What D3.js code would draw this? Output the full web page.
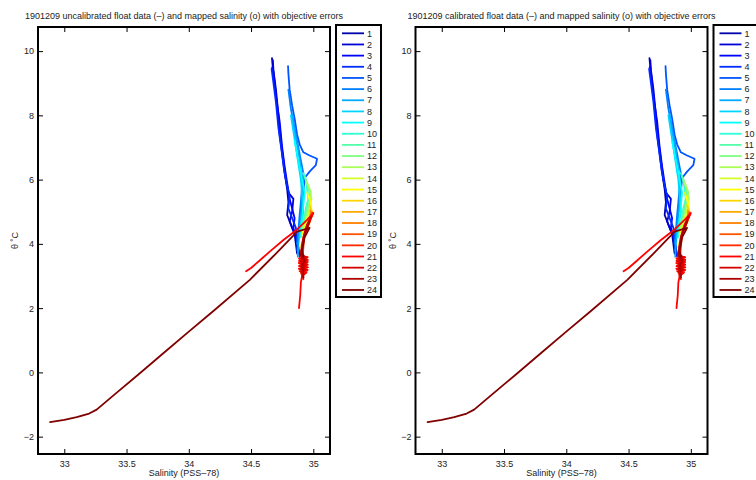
<!DOCTYPE html>
<html><head><meta charset="utf-8">
<script src="https://cdn.jsdelivr.net/npm/d3@7"></script>
<style>body{margin:0;background:#fff}svg{display:block;font-family:"Liberation Sans",Arial,sans-serif}</style>
</head><body>
<svg id="c" width="756" height="480"></svg>
<script>
const titles = [
  "1901209 uncalibrated float data (\u2013) and mapped salinity (o) with objective errors",
  "1901209 calibrated float data (\u2013) and mapped salinity (o) with objective errors"
];
const xTicks = [33, 33.5, 34, 34.5, 35];
const yTicks = [-2, 0, 2, 4, 6, 8, 10];
const xLabel = "Salinity (PSS\u201378)";
const yLabel = "\u03b8 \u02daC";
const profileNames = d3.range(1, 25).map(String);

const p1 = [[34.668,9.78],[34.672,9.6],[34.69,9.0],[34.71,8.2],[34.73,7.4],[34.75,6.8],[34.77,6.2],[34.79,5.7],[34.80,5.3],[34.79,4.9],[34.82,4.6],[34.85,4.3],[34.86,4.0],[34.87,3.7]];
const p2 = [[34.675,9.72],[34.68,9.4],[34.70,8.8],[34.72,8.0],[34.74,7.2],[34.76,6.6],[34.78,6.0],[34.80,5.6],[34.84,5.4],[34.83,5.0],[34.81,4.7],[34.84,4.4],[34.87,4.1],[34.88,3.8]];
const p3 = [[34.67,9.5],[34.68,9.2],[34.70,8.6],[34.73,7.8],[34.75,7.0],[34.77,6.4],[34.79,5.9],[34.81,5.4],[34.83,5.1],[34.85,4.8],[34.84,4.5],[34.86,4.2],[34.88,3.9],[34.89,3.6]];
const p4 = [[34.665,9.45],[34.68,9.0],[34.70,8.4],[34.72,7.6],[34.745,6.9],[34.765,6.3],[34.79,5.8],[34.81,5.5],[34.80,5.1],[34.83,4.8],[34.86,4.5],[34.87,4.1],[34.88,3.75]];
const p5 = [[34.797,9.53],[34.80,9.3],[34.81,8.8],[34.83,8.3],[34.85,7.9],[34.87,7.4],[34.89,7.1],[34.92,6.85],[34.97,6.75],[35.03,6.65],[35.02,6.45],[34.97,6.25],[34.93,6.05],[34.92,5.6],[34.90,5.1],[34.89,4.6],[34.88,4.2],[34.87,3.8]];
const p6 = [[34.80,8.8],[34.82,8.2],[34.85,7.6],[34.88,7.0],[34.90,6.6],[34.92,6.2],[34.91,5.8],[34.90,5.3],[34.89,4.9],[34.88,4.4],[34.87,4.0]];
const p7 = [[34.83,8.05],[34.845,7.6],[34.87,7.1],[34.89,6.6],[34.905,6.1],[34.92,5.7],[34.91,5.2],[34.90,4.8],[34.89,4.4],[34.88,4.0],[34.875,3.6]];
const p8 = [[34.82,8.0],[34.84,7.5],[34.86,7.0],[34.88,6.5],[34.90,6.0],[34.91,5.5],[34.92,5.0],[34.90,4.6],[34.89,4.2]];
const p9 = [[34.85,7.2],[34.87,6.8],[34.89,6.4],[34.91,6.0],[34.93,5.6],[34.92,5.2],[34.91,4.8],[34.90,4.5]];
const p10 = [[34.92,6.2],[34.94,6.0],[34.95,5.7],[34.96,5.4],[34.94,5.1],[34.93,4.8],[34.91,4.5],[34.90,4.2]];
const p11 = [[34.93,6.1],[34.95,5.85],[34.97,5.6],[34.955,5.3],[34.94,5.0],[34.92,4.7],[34.905,4.4]];
const p12 = [[34.94,6.0],[34.96,5.8],[34.98,5.6],[34.97,5.3],[34.95,5.0],[34.93,4.7],[34.91,4.4]];
const p13 = [[34.95,5.9],[34.97,5.7],[34.985,5.4],[34.97,5.1],[34.95,4.8],[34.92,4.5]];
const p14 = [[34.95,5.6],[34.97,5.4],[34.98,5.2],[34.965,4.95],[34.94,4.7],[34.92,4.4]];
const p15 = [[34.96,5.5],[34.98,5.3],[34.985,5.05],[34.97,4.8],[34.94,4.55],[34.91,4.3]];
const p16 = [[34.97,5.2],[34.99,5.0],[34.975,4.75],[34.95,4.5],[34.92,4.2],[34.90,3.9]];
const p17 = [[34.975,5.05],[34.99,4.9],[34.97,4.65],[34.94,4.4],[34.91,4.0],[34.905,3.6],[34.91,3.3]];
const p18 = [[34.98,5.0],[34.97,4.75],[34.94,4.5],[34.92,4.2],[34.905,3.8],[34.91,3.4],[34.90,3.1]];
const p19 = [[34.99,4.98],[34.97,4.7],[34.94,4.45],[34.92,4.1],[34.91,3.6],[34.92,3.3],[34.91,3.0]];
const p20 = [[34.995,4.95],[34.96,4.6],[34.93,4.3],[34.92,3.9],[34.915,3.62],[34.95,3.57],[34.89,3.52],[34.955,3.47],[34.885,3.42],[34.95,3.37],[34.89,3.32],[34.955,3.27],[34.885,3.22],[34.95,3.17],[34.90,3.12],[34.92,2.9]];
const p21 = [[34.46,3.15],[34.50,3.25],[34.56,3.45],[34.65,3.76],[34.76,4.12],[34.87,4.45],[34.95,4.75],[35.0,4.96],[34.97,4.7],[34.93,4.3],[34.91,3.9],[34.895,3.62],[34.955,3.59],[34.885,3.55],[34.955,3.51],[34.885,3.47],[34.955,3.43],[34.885,3.39],[34.955,3.35],[34.885,3.31],[34.955,3.27],[34.885,3.23],[34.955,3.19],[34.89,3.15],[34.945,3.11],[34.91,3.0],[34.90,2.8],[34.895,2.4],[34.885,2.0]];
const p22 = [[34.98,4.85],[34.95,4.6],[34.92,4.2],[34.90,3.7],[34.94,3.58],[34.90,3.54],[34.94,3.50],[34.90,3.46],[34.94,3.42],[34.90,3.38],[34.94,3.34],[34.90,3.30],[34.94,3.26],[34.90,3.22],[34.935,3.18],[34.905,3.14],[34.92,2.95]];
const p23 = [[34.97,4.7],[34.93,4.3],[34.91,3.9],[34.90,3.64],[34.93,3.5],[34.91,3.3],[34.92,3.1],[34.92,2.95]];
const p24 = [[32.886,-1.55],[33.0,-1.48],[33.10,-1.39],[33.2,-1.28],[33.26,-1.16],[33.4,-0.70],[33.6,-0.05],[33.8,0.61],[34.0,1.27],[34.2,1.92],[34.49,2.88],[34.7,3.7],[34.87,4.38],[34.97,4.5],[34.93,4.2],[34.91,3.8],[34.92,3.6]];
const profiles = [p1,p2,p3,p4,p5,p6,p7,p8,p9,p10,p11,p12,p13,p14,p15,p16,p17,p18,p19,p20,p21,p22,p23,p24];

// MATLAB jet(24)
function jet(m){
  const n = Math.ceil(m/4);
  const u = [];
  for(let i=1;i<=n;i++) u.push(i/n);
  for(let i=1;i<n;i++) u.push(1);
  for(let i=n;i>=1;i--) u.push(i/n);
  const g0 = Math.ceil(n/2) - (m%4===1?1:0);
  const cols = d3.range(m).map(()=>[0,0,0]);
  u.forEach((v,k)=>{
    const g = g0 + k + 1, r = g + n, b = g - n;
    if(r>=1 && r<=m) cols[r-1][0]=v;
    if(g>=1 && g<=m) cols[g-1][1]=v;
    if(b>=1 && b<=m) cols[b-1][2]=v;
  });
  return cols.map(c=>d3.rgb(c[0]*255,c[1]*255,c[2]*255).formatHex());
}
const colors = jet(24);

const svg = d3.select("#c");
const xDomain = [32.789, 35.134];
const yDomain = [-2.54, 10.75];

function panel(offsetX, title){
  const left = 38 + offsetX, right = 330 + offsetX, top = 27, bottom = 454;
  const x = d3.scaleLinear().domain(xDomain).range([left, right]);
  const y = d3.scaleLinear().domain(yDomain).range([bottom, top]);
  const g = svg.append("g");
  const clipId = "clip" + Math.round(offsetX);
  g.append("clipPath").attr("id", clipId).append("rect")
    .attr("x", left).attr("y", top).attr("width", right-left).attr("height", bottom-top);

  const line = d3.line().x(d=>x(d[0])).y(d=>y(d[1]));
  const lg = g.append("g").attr("clip-path", `url(#${clipId})`);
  profiles.forEach((p,i)=>{
    lg.append("path").attr("d", line(p)).attr("fill","none")
      .attr("stroke", colors[i]).attr("stroke-width", 1.8)
      .attr("stroke-linejoin","round").attr("stroke-linecap","round");
  });

  const tl = 5;
  const axB = g.append("g").attr("transform",`translate(0,${bottom})`)
    .call(d3.axisBottom(x).tickValues(xTicks).tickSize(-tl).tickPadding(7).tickFormat(d3.format("")));
  const axT = g.append("g").attr("transform",`translate(0,${top})`)
    .call(d3.axisTop(x).tickValues(xTicks).tickSize(-tl).tickFormat(""));
  const axL = g.append("g").attr("transform",`translate(${left},0)`)
    .call(d3.axisLeft(y).tickValues(yTicks).tickSize(-tl).tickPadding(4).tickFormat(d=>d<0?"\u2212"+Math.abs(d):d));
  const axR = g.append("g").attr("transform",`translate(${right},0)`)
    .call(d3.axisRight(y).tickValues(yTicks).tickSize(-tl).tickFormat(""));
  [axB,axT,axL,axR].forEach(a=>{
    a.select(".domain").remove();
    a.selectAll(".tick line").attr("stroke","#000").attr("stroke-width",1);
    a.selectAll("text").attr("font-size",9).attr("fill","#222").attr("font-family","Liberation Sans, Arial, sans-serif");
  });
  g.append("rect").attr("x",left).attr("y",top).attr("width",right-left).attr("height",bottom-top)
    .attr("fill","none").attr("stroke","#000").attr("stroke-width",2);

  g.append("text").attr("x",(left+right)/2).attr("y",19).attr("text-anchor","middle")
    .attr("font-size",9).attr("fill","#222").text(title);
  g.append("text").attr("x",(left+right)/2).attr("y",476).attr("text-anchor","middle")
    .attr("font-size",9).attr("fill","#222").text(xLabel);
  g.append("text").attr("transform",`translate(${left-20},${(top+bottom)/2}) rotate(-90)`)
    .attr("text-anchor","middle").attr("font-size",9).attr("fill","#222").text(yLabel);

  const lx = 336 + offsetX, ly = 25, lw = 45, rowH = 11.16;
  const leg = g.append("g");
  leg.append("rect").attr("x",lx).attr("y",ly).attr("width",lw).attr("height",272)
    .attr("fill","#fff").attr("stroke","#000").attr("stroke-width",2);
  profileNames.forEach((nm,i)=>{
    const yy = 33.3 + i*rowH;
    leg.append("line").attr("x1",lx+6).attr("x2",lx+28).attr("y1",yy).attr("y2",yy)
      .attr("stroke",colors[i]).attr("stroke-width",1.8);
    leg.append("text").attr("x",lx+31).attr("y",yy+3.2).attr("font-size",9).attr("fill","#222").text(nm);
  });
}
panel(0, titles[0]);
panel(377.5, titles[1]);
</script>
</body></html>
